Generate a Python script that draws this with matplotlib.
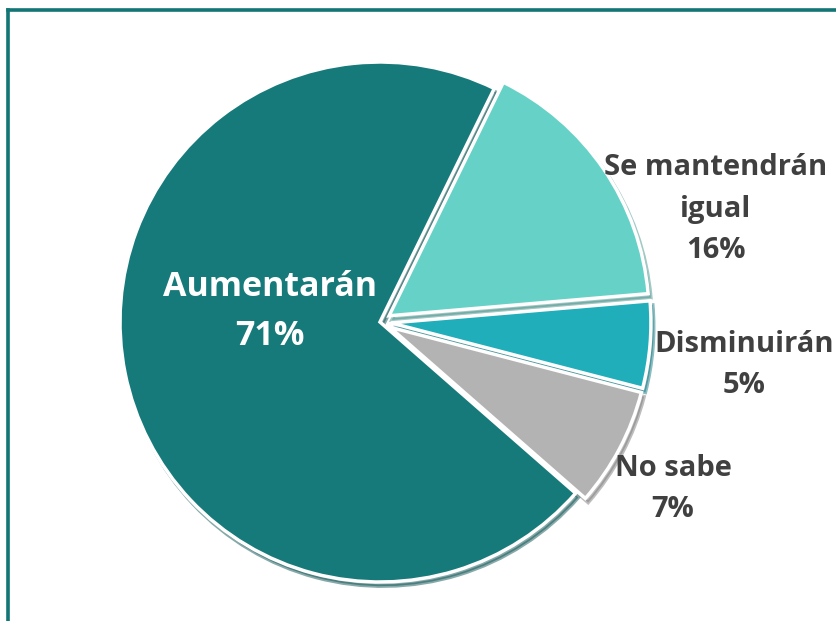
import matplotlib
matplotlib.use("Agg")
import matplotlib.pyplot as plt
from matplotlib.lines import Line2D

categories = ["Aumentarán", "Se mantendrán\nigual", "Disminuirán", "No sabe"]
values = [70.8, 16.4, 5.4, 7.4]
colors = ["#177A7A", "#66D2C7", "#20AEBB", "#B3B3B3"]
explode = [0, 11, 11, 11]

W, H = 837, 621
fig = plt.figure(figsize=(W / 100, H / 100), dpi=100)
ax = fig.add_axes([0, 0, 1, 1])

cx, cy, r = 380, H - 322, 260
wedges, _ = ax.pie(values, colors=colors, explode=explode, startangle=-41.2,
                   counterclock=False, center=(cx, cy), radius=r,
                   wedgeprops=dict(edgecolor="white", linewidth=2.5),
                   shadow={"ox": 2, "oy": -3, "shade": 0.3}, frame=True)
ax.set_xlim(0, W)
ax.set_ylim(0, H)
ax.set_aspect("equal")
ax.axis("off")

total = sum(values)
pcts = [f"{round(v / total * 100)}%" for v in values]

font = "Open Sans"
ax.text(270, H - 345, f"{categories[0]}\n{pcts[0]}", color="white",
        fontsize=24.5, fontweight="bold", family=font, ha="center", va="baseline",
        linespacing=1.56)
label_pos = [(716, H - 258), (744, H - 393), (673, H - 517)]
for (x, y), cat, p in zip(label_pos, categories[1:], pcts[1:]):
    ax.text(x, y, f"{cat}\n{p}", color="#404040", fontsize=21,
            fontweight="bold", family=font, ha="center", va="baseline",
            linespacing=1.56)

# frame border (top and left visible)
ax.add_line(Line2D([8.5, 8.5], [0, H - 9.5], color="#137575", linewidth=2.6,
                   solid_capstyle="projecting"))
ax.add_line(Line2D([8.5, W], [H - 9.5, H - 9.5], color="#137575", linewidth=2.6,
                   solid_capstyle="projecting"))

fig.savefig("out.png", dpi=100)
